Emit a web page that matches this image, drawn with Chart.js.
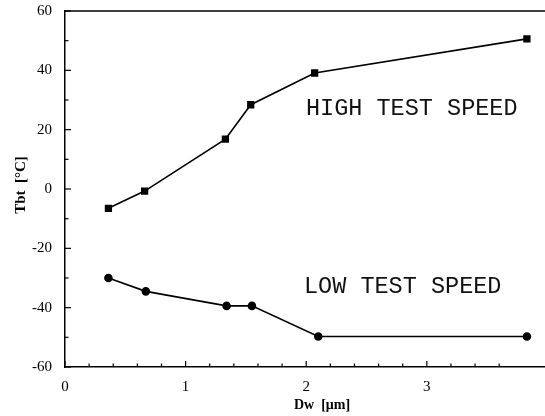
<!DOCTYPE html>
<html>
<head>
<meta charset="utf-8">
<script src="https://cdn.jsdelivr.net/npm/chart.js@4.4.1/dist/chart.umd.min.js"></script>
<style>
  html, body { margin: 0; padding: 0; background: #fff; }
  #wrap { width: 545px; height: 416px; }
</style>
</head>
<body>
<div id="wrap"><canvas id="chart" width="545" height="416"></canvas></div>
<script>
// Dw [um] and Tbt [degC]
const dwHigh = [0.36, 0.66, 1.33, 1.54, 2.07, 3.83];
const tbtHigh = [-6.5, -0.7, 16.8, 28.4, 39.1, 50.6];
const dwLow = [0.36, 0.67, 1.34, 1.55, 2.10, 3.83];
const tbtLow = [-30, -34.5, -39.4, -39.4, -49.7, -49.7];

const xLabels = [0, 1, 2, 3];
const yLabels = [-60, -40, -20, 0, 20, 40, 60];

const serif = '"Liberation Serif", "DejaVu Serif", serif';
const mono = '"Liberation Mono", "DejaVu Sans Mono", monospace';

function toPoints(xs, ys) {
    return xs.map((x, i) => ({ x: x, y: ys[i] }));
}

// no extra room for end labels, the frame runs to the edge
function noPad(s) {
    s.paddingTop = 0;
    s.paddingBottom = 0;
    s.paddingLeft = 0;
    s.paddingRight = 0;
}

// tick marks pointing inside, top frame, titles and curve labels
const decor = {
    id: 'decor',
    afterDraw(chart) {
        const ctx = chart.ctx;
        const a = chart.chartArea;
        const xs = chart.scales.x;
        const ys = chart.scales.y;
        ctx.save();
        ctx.strokeStyle = '#000';
        ctx.lineWidth = 1.5;
        ctx.beginPath();
        ctx.moveTo(a.left, a.top);
        ctx.lineTo(chart.width, a.top);
        ctx.stroke();

        ctx.lineWidth = 1.2;
        xs.ticks.forEach(t => {
            const px = xs.getPixelForValue(t.value);
            const major = xLabels.some(v => Math.abs(v - t.value) < 1e-6);
            const len = major ? 6 : 3.5;
            ctx.beginPath();
            ctx.moveTo(px, a.bottom);
            ctx.lineTo(px, a.bottom - len);
            ctx.stroke();
        });
        ys.ticks.forEach(t => {
            const py = ys.getPixelForValue(t.value);
            const major = yLabels.indexOf(t.value) >= 0;
            const len = major ? 6 : 3.5;
            ctx.beginPath();
            ctx.moveTo(a.left, py);
            ctx.lineTo(a.left + len, py);
            ctx.stroke();
        });

        // axis titles
        ctx.fillStyle = '#000';
        ctx.font = 'bold 14px ' + serif;
        ctx.textAlign = 'center';
        ctx.textBaseline = 'middle';
        ctx.fillText('Dw  [\u03bcm]', 322, 405);
        ctx.font = 'bold 15px ' + serif;
        ctx.translate(21, 185);
        ctx.rotate(-Math.PI / 2);
        ctx.fillText('Tbt  [\u00b0C]', 0, 0);
        ctx.restore();

        // curve labels
        ctx.save();
        ctx.fillStyle = '#111';
        ctx.font = '23.5px ' + mono;
        ctx.textAlign = 'left';
        ctx.textBaseline = 'middle';
        ctx.fillText('HIGH TEST SPEED', 306, 109);
        ctx.fillText('LOW TEST SPEED', 304, 287);
        ctx.restore();
    }
};

new Chart(document.getElementById('chart'), {
    type: 'scatter',
    data: {
        datasets: [
            {
                label: 'HIGH TEST SPEED',
                data: toPoints(dwHigh, tbtHigh),
                showLine: true,
                borderColor: '#000',
                backgroundColor: '#000',
                borderWidth: 1.6,
                pointStyle: 'rect',
                pointRadius: 4,
                pointHoverRadius: 4
            },
            {
                label: 'LOW TEST SPEED',
                data: toPoints(dwLow, tbtLow),
                showLine: true,
                borderColor: '#000',
                backgroundColor: '#000',
                borderWidth: 1.6,
                pointStyle: 'circle',
                pointRadius: 3.5,
                pointHoverRadius: 3.5
            }
        ]
    },
    options: {
        responsive: false,
        animation: false,
        layout: { autoPadding: false, padding: { top: 11, right: 0, left: 0, bottom: 0 } },
        plugins: {
            legend: { display: false },
            tooltip: { enabled: false }
        },
        scales: {
            x: {
                type: 'linear',
                min: 0,
                max: 3.98,
                afterBuildTicks: s => {
                    s.ticks = s.ticks.filter(t => Math.abs(t.value / 0.2 - Math.round(t.value / 0.2)) < 1e-6);
                },
                afterFit: s => { s.height = 49; noPad(s); },
                grid: { display: false, drawTicks: false },
                border: { display: true, color: '#000', width: 1.5 },
                ticks: {
                    stepSize: 0.2,
                    padding: 11,
                    maxRotation: 0,
                    autoSkip: false,
                    color: '#000',
                    font: { family: serif, size: 15 },
                    callback: v => xLabels.some(l => Math.abs(l - v) < 1e-6) ? String(Math.round(v)) : ''
                }
            },
            y: {
                type: 'linear',
                min: -60,
                max: 60,
                afterFit: s => { s.width = 65; noPad(s); },
                grid: { display: false, drawTicks: false },
                border: { display: true, color: '#000', width: 1.5 },
                ticks: {
                    stepSize: 10,
                    padding: 13,
                    autoSkip: false,
                    color: '#000',
                    font: { family: serif, size: 15 },
                    callback: v => yLabels.indexOf(v) >= 0 ? String(v) : ''
                }
            }
        }
    },
    plugins: [decor]
});
</script>
</body>
</html>
